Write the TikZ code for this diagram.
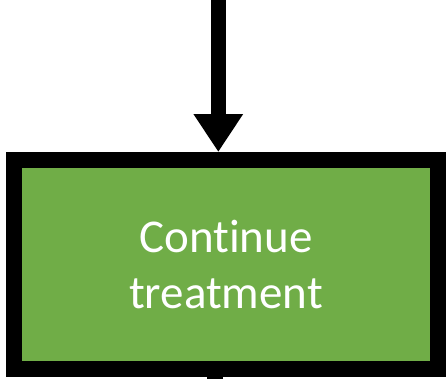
\documentclass[tikz,border=0pt]{standalone}
\usepackage{xcolor}
\usepackage{tikz}
\usetikzlibrary{arrows.meta}
\usepackage{fontspec}
\setmainfont{Carlito}[Ligatures={NoCommon}]
\definecolor{TreatGreen}{RGB}{112,173,71}
\definecolor{FlowBlack}{RGB}{0,0,0}
\tikzset{
  treatbox/.style={draw=FlowBlack,fill=TreatGreen,line width=16pt,
    minimum width=424pt,minimum height=209pt,inner sep=0pt,
    text=white,align=center,
    font=\fontsize{47pt}{55.6pt}\selectfont},
  flowline/.style={draw=FlowBlack,line width=15pt}
}

\begin{document}
\begin{tikzpicture}[x=1pt,y=-1pt]
  \useasboundingbox (0,0) rectangle (446,378);
  \clip (0,0) rectangle (446,378);
  \node[treatbox] (treat) at (226,264.5) {Continue\\treatment};
  \coordinate (intop) at (218.3,-10);
  \coordinate (outbot) at (214.7,400);
  \draw[flowline,-{Triangle[length=38pt,width=47pt]}] (intop) -- (intop |- treat.north);
  \draw[flowline,line width=16pt] (treat.south -| outbot) -- (outbot);
\end{tikzpicture}
\end{document}
